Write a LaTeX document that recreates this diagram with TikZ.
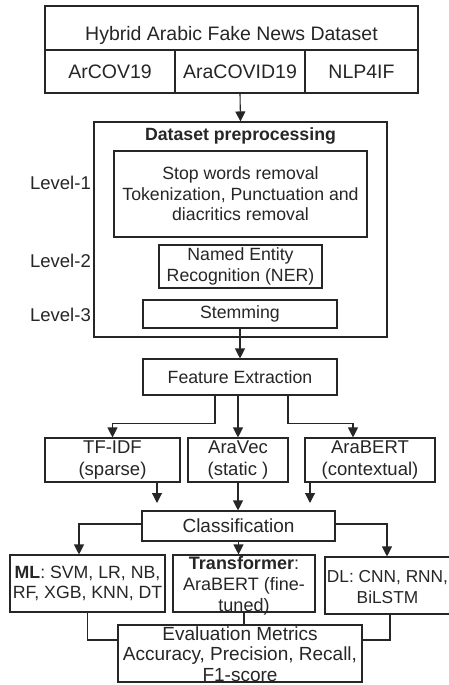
\documentclass[tikz,border=0pt]{standalone}
\usepackage{fontspec}
\setmainfont{Liberation Sans}
\usetikzlibrary{arrows.meta,calc}
\definecolor{ink}{HTML}{262626}
\tikzset{
  box/.style={draw=ink, line width=1.1pt, inner sep=0pt, align=center, text=ink},
  txt/.style={inner sep=0pt, align=center, text=ink},
  arr/.style={draw=ink, line width=1.1pt, -{Triangle[length=10pt,width=10pt]}},
  ln/.style={draw=ink, line width=1.1pt},
  fa/.style={font=\fontsize{17.7}{20.5}\selectfont},
  fb/.style={font=\fontsize{18.5}{22}\selectfont},
  fc/.style={font=\fontsize{19.5}{22.5}\selectfont},
}
\begin{document}
\begin{tikzpicture}[x=1pt,y=-1pt]
\useasboundingbox[fill=white] (0,0) rectangle (449,685);

% dataset block
\node[box, minimum width=373, minimum height=44] (hdr) at (231.5,28) {};
\node[txt, fc] (hdrt) at (231.5,35) {Hybrid Arabic Fake News Dataset};
\node[box, fc, minimum width=130, minimum height=43] (d1) at (110,71.5) {ArCOV19};
\node[box, fc, minimum width=130, minimum height=43] (d2) at (240,71.5) {AraCOVID19};
\node[box, fc, minimum width=113, minimum height=43] (d3) at (361.5,71.5) {NLP4IF};

% preprocessing
\node[box, minimum width=293, minimum height=215] (pre) at (240.5,229.5) {};
\node[txt, fa] (pret) at (240.5,136) {\textbf{Dataset preprocessing}};
\node[box, fa, minimum width=253, minimum height=86] (l1) at (240.5,194)
  {Stop words removal\\Tokenization, Punctuation and\\diacritics removal};
\node[box, fa, minimum width=163, minimum height=43] (l2) at (240.5,266.5)
  {Named Entity\\Recognition (NER)};
\node[box, fa, minimum width=194, minimum height=28] (stem) at (240,314) {Stemming};
\node[txt, fb, anchor=east] (lv1) at (91,183) {Level-1};
\node[txt, fb, anchor=east] (lv2) at (91,261) {Level-2};
\node[txt, fb, anchor=east] (lv3) at (91,315) {Level-3};

% feature extraction
\node[box, fa, minimum width=194, minimum height=36] (fe) at (240,377) {Feature Extraction};
\node[box, fb, minimum width=135, minimum height=44] (tfidf) at (112.5,460) {TF-IDF\\(sparse)};
\node[box, fb, minimum width=100, minimum height=44] (aravec) at (238,460) {AraVec\\(static )};
\node[box, fb, minimum width=130, minimum height=44] (arabert) at (370,460) {AraBERT\\(contextual)};

% classification
\node[box, minimum width=193, minimum height=30, font=\fontsize{19}{22}\selectfont] (cls) at (238.5,526) {Classification};
\node[box, fa, minimum width=155, minimum height=57] (ml) at (87.5,583.5)
  {\textbf{ML}: SVM, LR, NB,\\RF, XGB, KNN, DT};
\node[box, minimum width=142, minimum height=57] (trans) at (244,583.5) {};
\node[txt, font=\fontsize{18}{21}\selectfont] (transt) at (244,586)
  {\textbf{Transformer}:\\AraBERT (fine-\\tuned)};
\node[box, minimum width=130, minimum height=57] (dl) at (390,585.5) {};
\node[txt, font=\fontsize{17.3}{21.5}\selectfont] (dlt) at (387.5,587) {DL: CNN, RNN,\\BiLSTM};

% evaluation
\node[box, minimum width=244, minimum height=57] (eval) at (240,653.5) {};
\node[txt, font=\fontsize{19}{20.5}\selectfont] (evalt) at (240,654)
  {Evaluation Metrics\\Accuracy, Precision, Recall,\\F1-score};

% connectors
\draw[arr] (d2.south) -- (pre.north);
\draw[arr] (stem.south) -- (fe.north);
\draw[arr] ([xshift=-25pt]fe.south) -- ++(0,28) -| (tfidf.north);
\draw[arr] (aravec.north |- fe.south) -- (aravec.north);
\draw[arr] ([xshift=48pt]fe.south) -- ++(0,28) -| ([xshift=-17pt]arabert.north);

\coordinate (c1) at (157,503);
\coordinate (c3) at (310,503);
\draw[arr] (tfidf.south -| c1) -- (c1);
\draw[arr] (aravec.south) -- (cls.north -| aravec.south);
\draw[arr] (arabert.south -| c3) -- (c3);

\draw[arr] ([yshift=2pt]cls.west) -| ([xshift=-8.5pt]ml.north);
\draw[arr] (cls.south) -- (cls.south |- trans.north);
\draw[arr] ([yshift=2pt]cls.east) -| ([xshift=-3pt]dl.north);

\draw[ln] (ml.south) |- ([yshift=13.5pt]eval.west);
\draw[ln] (trans.south) -- (eval.north -| trans.south);
\draw[ln] (dl.south) |- ([yshift=13.5pt]eval.east);
\end{tikzpicture}
\end{document}
